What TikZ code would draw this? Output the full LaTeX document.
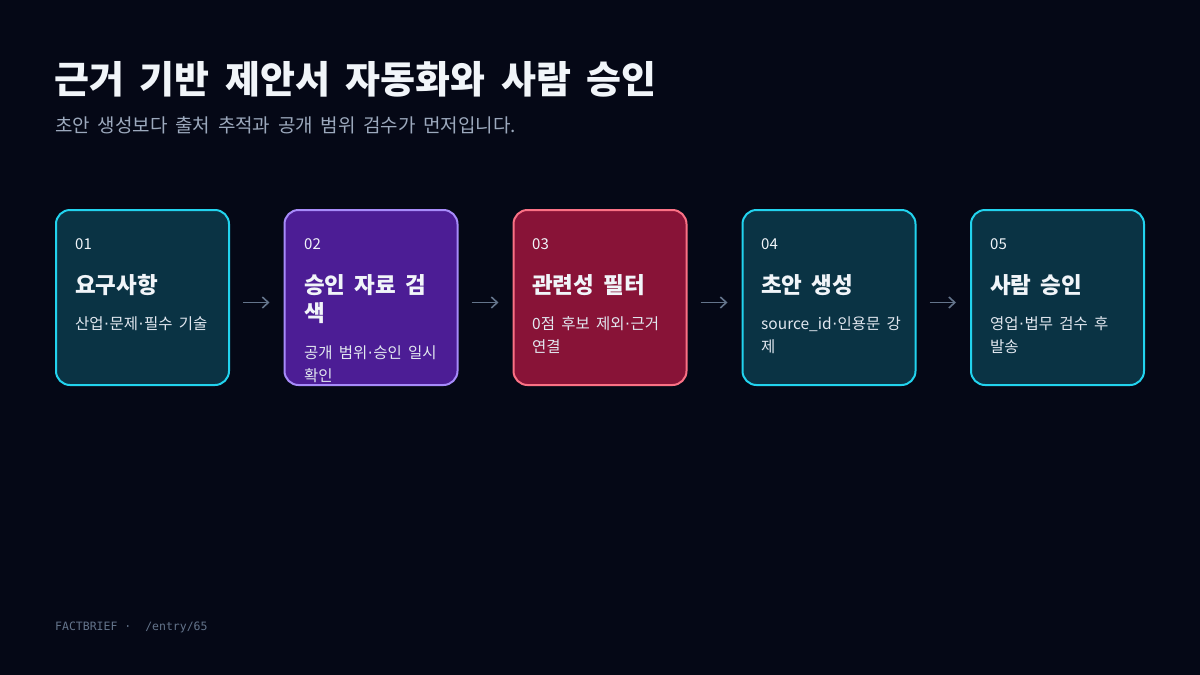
\documentclass[tikz,border=0pt]{standalone}
\usepackage{fontspec}
\setmainfont{Noto Sans CJK KR}[WordSpace=1.8]
\newfontfamily\monof{DejaVu Sans Mono}
\newfontfamily\dotf{DejaVu Sans}
\newcommand{\mdot}{{\dotf\kern0.5pt·\kern0.5pt}}
\usetikzlibrary{arrows.meta}
\definecolor{bgc}{HTML}{050816}
\definecolor{titlec}{HTML}{F1F5F9}
\definecolor{subc}{HTML}{9CA9BD}
\definecolor{cyanfill}{HTML}{0A3344}
\definecolor{cyanline}{HTML}{22D3EE}
\definecolor{violetfill}{HTML}{4C1D95}
\definecolor{violetline}{HTML}{A78BFA}
\definecolor{rosefill}{HTML}{881337}
\definecolor{roseline}{HTML}{FB7185}
\definecolor{descc}{HTML}{E2E8F0}
\definecolor{arrc}{HTML}{64748B}
\tikzset{
  card/.style={rounded corners=14pt, line width=2pt, minimum width=173pt, minimum height=175pt, inner sep=0pt},
  cyancard/.style={card, fill=cyanfill, draw=cyanline},
  violetcard/.style={card, fill=violetfill, draw=violetline},
  rosecard/.style={card, fill=rosefill, draw=roseline},
  numtxt/.style={anchor=base west, inner sep=0pt, text=titlec, font=\fontsize{15}{17}\selectfont},
  headtxt/.style={anchor=base west, inner sep=0pt, text=titlec, align=left, font=\fontsize{22.5}{28}\selectfont\bfseries},
  desctxt/.style={anchor=base west, inner sep=0pt, text=descc, align=left, font=\fontsize{15.5}{23}\selectfont},
  arr/.style={draw=arrc, line width=1.6pt, -{Straight Barb[length=6pt,width=11pt]}, shorten <=13pt, shorten >=14pt}
}
\begin{document}
\begin{tikzpicture}[x=1pt,y=-1pt]
\fill[bgc] (0,0) rectangle (1200,675);
\useasboundingbox (0,0) rectangle (1200,675);

\node[anchor=base west, inner sep=0pt, text=titlec, font=\fontsize{38}{42}\selectfont\bfseries] (title) at (54,93) {근거 기반 제안서 자동화와 사람 승인};
\node[anchor=base west, inner sep=0pt, text=subc, font=\fontsize{19}{21}\selectfont] (sub) at (55,132) {초안 생성보다 출처 추적과 공개 범위 검수가 먼저입니다.};

\node[cyancard] (b1) at (142.5,297.5) {};
\node[violetcard] (b2) at (371,297.5) {};
\node[rosecard] (b3) at (600,297.5) {};
\node[cyancard] (b4) at (829,297.5) {};
\node[cyancard] (b5) at (1057.5,297.5) {};

\node[numtxt] (n1) at (75,249) {01};
\node[headtxt] (h1) at (75,293) {요구사항};
\node[desctxt] (d1) at (75,329) {산업\mdot 문제\mdot 필수 기술};

\node[numtxt] (n2) at (304,249) {02};
\node[headtxt] (h2) at (304,321) {승인 자료 검\\색};
\node[desctxt] (d2) at (304,381) {공개 범위\mdot 승인 일시\\확인};

\node[numtxt] (n3) at (532,249) {03};
\node[headtxt] (h3) at (532,293) {관련성 필터};
\node[desctxt] (d3) at (532,352) {0점 후보 제외\mdot 근거\\연결};

\node[numtxt] (n4) at (761,249) {04};
\node[headtxt] (h4) at (761,293) {초안 생성};
\node[desctxt] (d4) at (761,352) {source\_id\mdot 인용문 강\\제};

\node[numtxt] (n5) at (990,249) {05};
\node[headtxt] (h5) at (990,293) {사람 승인};
\node[desctxt] (d5) at (990,352) {영업\mdot 법무 검수 후\\발송};

\draw[arr] ([yshift=-5pt]b1.east) -- ([yshift=-5pt]b2.west);
\draw[arr] ([yshift=-5pt]b2.east) -- ([yshift=-5pt]b3.west);
\draw[arr] ([yshift=-5pt]b3.east) -- ([yshift=-5pt]b4.west);
\draw[arr] ([yshift=-5pt]b4.east) -- ([yshift=-5pt]b5.west);

\node[anchor=base west, inner sep=0pt, text=arrc, font=\monof\fontsize{11.5}{14}\selectfont] (foot) at (55,630) {FACTBRIEF ·\hspace{7pt} /entry/65};
\end{tikzpicture}
\end{document}
